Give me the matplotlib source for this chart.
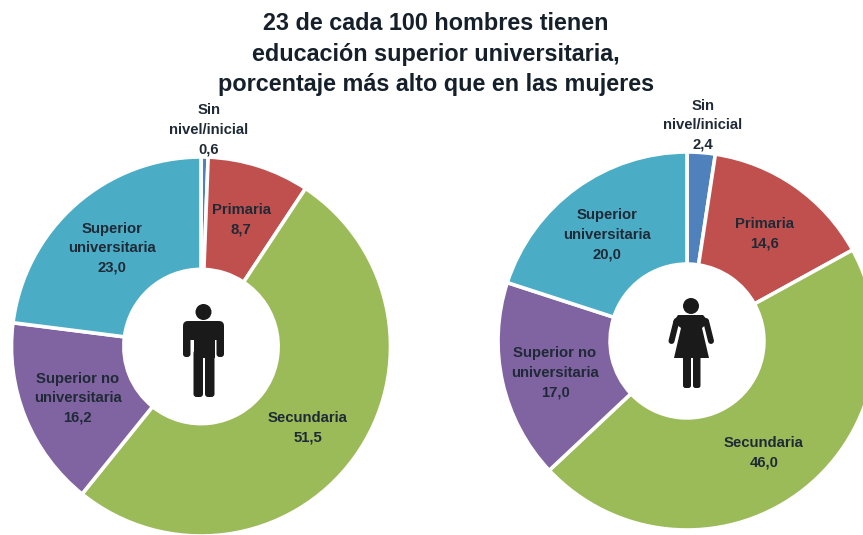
import matplotlib
matplotlib.use('Agg')
import matplotlib.pyplot as plt
from matplotlib.patches import Circle, Polygon, FancyBboxPatch

W, H = 863, 535

# Data
categories = ['Sin nivel/inicial', 'Primaria', 'Secundaria', 'Superior no universitaria', 'Superior universitaria']
hombres = [0.6, 8.7, 51.5, 16.2, 23.0]
mujeres = [2.4, 14.6, 46.0, 17.0, 20.0]
colors = ['#4F81BD', '#C0504D', '#9BBB59', '#8064A2', '#4BACC6']
title = '23 de cada 100 hombres tienen\neducación superior universitaria,\nporcentaje más alto que en las mujeres'

plt.rcParams['font.family'] = ['Liberation Sans Narrow', 'Liberation Sans', 'DejaVu Sans']
TXT = '#1f2a36'

fig = plt.figure(figsize=(W / 100, H / 100), dpi=100, facecolor='white')


def donut(cx, cy, r, values):
    ax = fig.add_axes([(cx - r) / W, 1 - (cy + r) / H, 2 * r / W, 2 * r / H])
    ax.pie(values, colors=colors, startangle=90, counterclock=False, radius=1,
           wedgeprops=dict(width=0.593, edgecolor='white', linewidth=2.6))
    ax.set_xlim(-1, 1)
    ax.set_ylim(-1, 1)
    ax.set_axis_off()
    return ax


donut(201, 346.5, 189.5, hombres)
donut(687, 341, 189, mujeres)

# overlay in pixel coords for texts and the icons
ov = fig.add_axes([0, 0, 1, 1], facecolor='none')
ov.set_xlim(0, W)
ov.set_ylim(H, 0)
ov.set_axis_off()


def label(x, y, s):
    ov.text(x, y, s, ha='center', va='center', fontsize=10.7, fontweight='bold',
            color=TXT, linespacing=1.5)


ov.text(436, 54, title, ha='center', va='center', fontsize=16.8, fontweight='bold',
        color='#15202b', linespacing=1.4)

label(209, 130, 'Sin\nnivel/inicial\n0,6')
label(241, 220, 'Primaria\n8,7')
label(308, 428, 'Secundaria\n51,5')
label(77.5, 398, 'Superior no\nuniversitaria\n16,2')
label(112, 248, 'Superior\nuniversitaria\n23,0')

label(703, 125, 'Sin\nnivel/inicial\n2,4')
label(764, 234, 'Primaria\n14,6')
label(764, 453, 'Secundaria\n46,0')
label(555, 373, 'Superior no\nuniversitaria\n17,0')
label(607, 235, 'Superior\nuniversitaria\n20,0')

ICON = '#1a1a1a'


def bar(x0, y0, x1, y1, rad=2.5):
    ov.add_patch(FancyBboxPatch((x0 + rad, y0 + rad), x1 - x0 - 2 * rad, y1 - y0 - 2 * rad,
                                boxstyle=f'round,pad={rad}', fc=ICON, ec='none'))


# man
ov.add_patch(Circle((203.5, 312), 8, fc=ICON, ec='none'))
bar(183, 321, 224, 340, 5)
bar(183, 325, 190.5, 357, 3)
bar(216.5, 325, 224, 357, 3)
ov.add_patch(Polygon([(193.5, 329), (214.5, 329), (214.5, 358), (193.5, 358)], fc=ICON, ec='none'))
bar(193.5, 350, 203, 397, 3)
bar(205, 350, 214.5, 397, 3)

# woman
ov.add_patch(Circle((691, 306), 8, fc=ICON, ec='none'))
ov.add_patch(Polygon([(678, 315), (703, 315), (709, 322), (702, 328), (709, 358), (674, 358),
                      (681, 328), (673, 322)], fc=ICON, ec='none'))
ov.plot([676.5, 671.5], [321, 341], color=ICON, lw=4.3, solid_capstyle='round')
ov.plot([706, 711], [321, 341], color=ICON, lw=4.3, solid_capstyle='round')
bar(683, 350, 691, 388, 2.5)
bar(693, 350, 700.5, 388, 2.5)

fig.savefig('out.png', dpi=100)
